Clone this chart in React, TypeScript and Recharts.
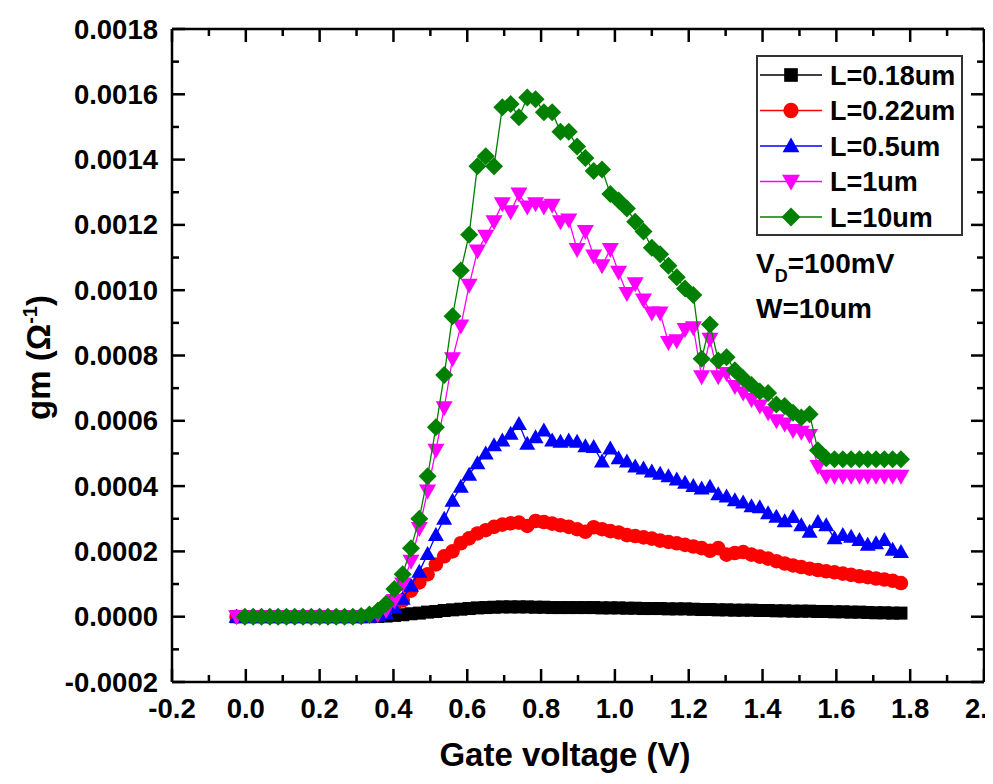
import React from "react";
import { ScatterChart, Scatter, XAxis, YAxis, Legend } from "recharts";

// gate voltage sweep (V)
const vg = [
  -0.025, -0.0025, 0.02, 0.0425, 0.065, 0.0875, 0.11, 0.1325, 0.155, 0.1775,
  0.2, 0.2225, 0.245, 0.2675, 0.29, 0.3125, 0.335, 0.3575, 0.38, 0.4025,
  0.425, 0.4475, 0.47, 0.4925, 0.515, 0.5375, 0.56, 0.5825, 0.605, 0.6275,
  0.65, 0.6725, 0.695, 0.7175, 0.74, 0.7625, 0.785, 0.8075, 0.83, 0.8525,
  0.875, 0.8975, 0.92, 0.9425, 0.965, 0.9875, 1.01, 1.0325, 1.055, 1.0775,
  1.1, 1.1225, 1.145, 1.1675, 1.19, 1.2125, 1.235, 1.2575, 1.28, 1.3025,
  1.325, 1.3475, 1.37, 1.3925, 1.415, 1.4375, 1.46, 1.4825, 1.505, 1.5275,
  1.55, 1.5725, 1.595, 1.6175, 1.64, 1.6625, 1.685, 1.7075, 1.73, 1.7525,
  1.775,
];

// gm in units of 1e-4 (1/Ohm), one value per gate voltage
const gmL018 = [
  0, 0, 0, 0, 0, 0, 0, 0, 0, 0,
  0, 0, 0, 0, 0, 0, 0, 0.01, 0.02, 0.04,
  0.06, 0.09, 0.11, 0.14, 0.16, 0.19, 0.21, 0.23, 0.25, 0.27,
  0.28, 0.29, 0.3, 0.3, 0.3, 0.3, 0.29, 0.29, 0.28, 0.28,
  0.28, 0.28, 0.28, 0.28, 0.27, 0.27, 0.27, 0.26, 0.26, 0.25,
  0.25, 0.25, 0.24, 0.24, 0.24, 0.23, 0.22, 0.22, 0.21, 0.21,
  0.2, 0.2, 0.2, 0.19, 0.19, 0.18, 0.18, 0.17, 0.17, 0.17,
  0.16, 0.16, 0.15, 0.15, 0.14, 0.14, 0.13, 0.12, 0.12, 0.11,
  0.11,
];

const gmL022 = [
  0, 0, 0, 0, 0, 0, 0, 0, 0, 0,
  0, 0, 0, 0, 0, 0, 0.02, 0.08, 0.2, 0.35,
  0.5, 0.8, 1.05, 1.3, 1.6, 1.85, 2.0, 2.25, 2.4, 2.55,
  2.65, 2.75, 2.82, 2.86, 2.88, 2.78, 2.93, 2.9, 2.85, 2.8,
  2.75, 2.68, 2.6, 2.74, 2.68, 2.62, 2.58, 2.5, 2.47, 2.43,
  2.39, 2.33, 2.29, 2.25, 2.2, 2.15, 2.1, 2.02, 2.1, 1.9,
  1.95, 1.98, 1.9, 1.84, 1.78, 1.7, 1.63, 1.57, 1.52, 1.47,
  1.43, 1.39, 1.36, 1.32, 1.28, 1.24, 1.21, 1.17, 1.14, 1.1,
  1.03,
];

const gmL05 = [
  0, 0, 0, 0, 0, 0, 0, 0, 0, 0,
  0, 0, 0, 0, 0, 0, 0, 0.03, 0.1, 0.28,
  0.55, 0.95, 1.38, 1.92, 2.5, 3.0, 3.55, 3.98, 4.35, 4.7,
  5.0, 5.25, 5.4, 5.6, 5.9, 5.3, 5.5, 5.7, 5.4, 5.36,
  5.4, 5.36, 5.22, 5.2, 4.75, 5.15, 4.85, 4.75, 4.6, 4.54,
  4.45, 4.38, 4.3, 4.2, 4.1, 4.0, 3.93, 3.98, 3.75, 3.68,
  3.57, 3.5, 3.38, 3.35, 3.17, 3.06, 2.92, 3.05, 2.8, 2.6,
  2.9, 2.8, 2.4, 2.5, 2.45, 2.35, 2.2, 2.25, 2.35, 2.05,
  1.98,
];

const gmL1 = [
  0, 0, 0, 0, 0, 0, 0, 0, 0, 0,
  0, 0, 0, 0, 0, 0, 0.02, 0.07, 0.2, 0.5,
  1.0, 1.7, 2.7, 3.85, 5.1, 6.4, 7.9, 8.9, 10.15, 11.2,
  11.65, 12.1, 12.65, 12.4, 12.95, 12.55, 12.65, 12.55, 12.6, 12.1,
  12.15, 11.25, 11.8, 11.05, 10.75, 11.25, 10.55, 9.9, 10.2, 9.7,
  9.3, 9.3, 8.4, 8.45, 8.8, 8.85, 7.35, 8.5, 7.35, 7.45,
  7.05, 6.85, 6.65, 6.45, 6.25, 6.0, 5.9, 5.7, 5.65, 5.55,
  4.6, 4.3, 4.3, 4.3, 4.3, 4.3, 4.3, 4.3, 4.3, 4.3,
  4.3,
];

const gmL10 = [
  null, 0, 0, 0, 0, 0, 0, 0, 0, 0,
  0, 0, 0, 0, 0, 0.02, 0.07, 0.18, 0.4, 0.85,
  1.3, 2.1, 3.0, 4.3, 5.8, 7.4, 9.2, 10.6, 11.7, 13.8,
  14.1, 13.8, 15.6, 15.7, 15.3, 15.9, 15.85, 15.45, 15.45, 14.85,
  14.85, 14.4, 14.05, 13.65, 13.7, 12.95, 12.75, 12.5, 12.1, 11.8,
  11.3, 11.1, 10.75, 10.4, 10.05, 9.85, 7.9, 8.95, 7.85, 7.95,
  7.55, 7.3, 7.1, 6.9, 6.85, 6.5, 6.45, 6.25, 6.1, 6.2,
  5.1, 4.85, 4.82, 4.82, 4.82, 4.82, 4.82, 4.82, 4.82, 4.82,
  4.82,
];

// axis ticks (major + minor)
const xTicks = [
  -0.2, -0.1, 0, 0.1, 0.2, 0.3, 0.4, 0.5, 0.6, 0.7, 0.8, 0.9, 1.0, 1.1,
  1.2, 1.3, 1.4, 1.5, 1.6, 1.7, 1.8, 1.9, 2.0,
];
const yTicks = [
  -0.0002, -0.0001, 0, 0.0001, 0.0002, 0.0003, 0.0004, 0.0005, 0.0006,
  0.0007, 0.0008, 0.0009, 0.001, 0.0011, 0.0012, 0.0013, 0.0014, 0.0015,
  0.0016, 0.0017, 0.0018,
];

const FONT = "'Liberation Sans', Arial, Helvetica, sans-serif";
const AXIS = { stroke: "#000", strokeWidth: 2.5 };

type Shape = "square" | "circle" | "up" | "down" | "diamond";

const series: { name: string; color: string; shape: Shape; ys: (number | null)[] }[] = [
  { name: "L=0.18um", color: "#000000", shape: "square", ys: gmL018 },
  { name: "L=0.22um", color: "#ff0000", shape: "circle", ys: gmL022 },
  { name: "L=0.5um", color: "#0000ff", shape: "up", ys: gmL05 },
  { name: "L=1um", color: "#ff00ff", shape: "down", ys: gmL1 },
  { name: "L=10um", color: "#008000", shape: "diamond", ys: gmL10 },
];

const toPoints = (ys: (number | null)[]) =>
  vg
    .map((x, i) => ({ x, y: ys[i] == null ? null : (ys[i] as number) * 1e-4 }))
    .filter((p) => p.y !== null);

function Marker({ shape, cx, cy, color, k = 1 }: { shape: Shape; cx: number; cy: number; color: string; k?: number }) {
  if (cx == null || cy == null) return null;
  switch (shape) {
    case "square":
      return <rect x={cx - 6.5 * k} y={cy - 6.5 * k} width={13 * k} height={13 * k} fill={color} />;
    case "circle":
      return <circle cx={cx} cy={cy} r={7.3 * k} fill={color} />;
    case "up":
      return (
        <polygon
          points={`${cx},${cy - 8 * k} ${cx + 8 * k},${cy + 6 * k} ${cx - 8 * k},${cy + 6 * k}`}
          fill={color}
        />
      );
    case "down":
      return (
        <polygon
          points={`${cx},${cy + 8.5 * k} ${cx + 8.5 * k},${cy - 6.5 * k} ${cx - 8.5 * k},${cy - 6.5 * k}`}
          fill={color}
        />
      );
    default:
      return (
        <polygon
          points={`${cx},${cy - 9 * k} ${cx + 9 * k},${cy} ${cx},${cy + 9 * k} ${cx - 9 * k},${cy}`}
          fill={color}
        />
      );
  }
}

// inward ticks, minor ones shorter; labels only on the bottom / left
function XTick(props: any) {
  const { x, y, payload, side } = props;
  const v = payload.value as number;
  const major = Math.round(v * 10) % 2 === 0;
  const len = major ? 13 : 7;
  const dir = side === "bottom" ? -1 : 1;
  return (
    <g>
      <line x1={x} x2={x} y1={y} y2={y + dir * len} stroke="#000" strokeWidth={2.5} />
      {side === "bottom" && major && (
        <text x={x} y={y + 36} textAnchor="middle" fontSize={27.5} fontWeight="bold" fontFamily={FONT} fill="#000">
          {v.toFixed(1)}
        </text>
      )}
    </g>
  );
}

function YTick(props: any) {
  const { x, y, payload, side } = props;
  const v = payload.value as number;
  const major = Math.round(v / 0.0001) % 2 === 0;
  const len = major ? 13 : 7;
  const dir = side === "left" ? 1 : -1;
  return (
    <g>
      <line x1={x} x2={x + dir * len} y1={y} y2={y} stroke="#000" strokeWidth={2.5} />
      {side === "left" && major && (
        <text x={x - 14} y={y + 9.5} textAnchor="end" fontSize={27.5} fontWeight="bold" fontFamily={FONT} fill="#000">
          {v.toFixed(4)}
        </text>
      )}
    </g>
  );
}

function XTitle({ viewBox }: any) {
  return (
    <text
      x={viewBox.x + viewBox.width / 2 - 13}
      y={viewBox.y + 84}
      textAnchor="middle"
      fontSize={33}
      fontWeight="bold"
      fontFamily={FONT}
      fill="#000"
    >
      Gate voltage (V)
    </text>
  );
}

function YTitle({ viewBox }: any) {
  const cx = viewBox.x + 42;
  const cy = viewBox.y + viewBox.height / 2 + 2;
  return (
    <text
      x={cx}
      y={cy}
      transform={`rotate(-90 ${cx} ${cy})`}
      textAnchor="middle"
      fontSize={33}
      fontWeight="bold"
      fontFamily={FONT}
      fill="#000"
    >
      gm (Ω
      <tspan dy={-13} fontSize={20}>
        -1
      </tspan>
      <tspan dy={13}>)</tspan>
    </text>
  );
}

function LegendBox() {
  return (
    <div
      style={{
        width: 207,
        height: 181,
        border: "2px solid #333",
        boxSizing: "border-box",
        background: "#fff",
      }}
    >
      <svg width={203} height={177} style={{ display: "block" }}>
        {series.map((s, i) => {
          const cy = 18 + i * 35.5;
          return (
            <g key={s.name}>
              <line x1={2} x2={64} y1={cy} y2={cy} stroke={s.color} strokeWidth={1.5} />
              <Marker shape={s.shape} cx={33} cy={cy} color={s.color} k={1.05} />
              <text x={72} y={cy + 9.5} fontSize={27} fontWeight="bold" fontFamily={FONT} fill="#000">
                {s.name}
              </text>
            </g>
          );
        })}
      </svg>
    </div>
  );
}

export default function App() {
  return (
    <div style={{ position: "relative", width: 985, height: 776, background: "#fff" }}>
      <ScatterChart
        width={985}
        height={776}
        margin={{ top: 20, right: 8, bottom: 0, left: 0 }}
        style={{ overflow: "visible" }}
      >
        <XAxis
          xAxisId="b"
          type="number"
          dataKey="x"
          domain={[-0.2, 2]}
          ticks={xTicks}
          interval={0}
          allowDataOverflow
          height={102}
          tickSize={0}
          tickMargin={0}
          tickLine={false}
          axisLine={AXIS}
          tick={(p: any) => <XTick {...p} side="bottom" />}
          label={(p: any) => <XTitle viewBox={p.viewBox} />}
        />
        <XAxis
          xAxisId="t"
          orientation="top"
          type="number"
          dataKey="x"
          domain={[-0.2, 2]}
          ticks={xTicks}
          interval={0}
          allowDataOverflow
          height={1}
          tickSize={0}
          tickMargin={0}
          tickLine={false}
          axisLine={AXIS}
          tick={(p: any) => <XTick {...p} side="top" />}
        />
        <YAxis
          yAxisId="l"
          type="number"
          dataKey="y"
          domain={[-0.0002, 0.0018]}
          ticks={yTicks}
          interval={0}
          allowDataOverflow
          width={164}
          tickSize={0}
          tickMargin={0}
          tickLine={false}
          axisLine={AXIS}
          tick={(p: any) => <YTick {...p} side="left" />}
          label={(p: any) => <YTitle viewBox={p.viewBox} />}
        />
        <YAxis
          yAxisId="r"
          orientation="right"
          type="number"
          dataKey="y"
          domain={[-0.0002, 0.0018]}
          ticks={yTicks}
          interval={0}
          allowDataOverflow
          width={1}
          tickSize={0}
          tickMargin={0}
          tickLine={false}
          axisLine={AXIS}
          tick={(p: any) => <YTick {...p} side="right" />}
        />
        <Legend
          layout="vertical"
          align="center"
          verticalAlign="middle"
          content={() => <LegendBox />}
          wrapperStyle={{ left: 748, top: 47, width: 207, height: 181 }}
        />
        {series.map((s) => (
          <Scatter
            key={s.name}
            name={s.name}
            xAxisId="b"
            yAxisId="l"
            data={toPoints(s.ys)}
            fill={s.color}
            line={{ stroke: s.color, strokeWidth: 1.3 }}
            lineType="joint"
            shape={(p: any) => <Marker shape={s.shape} cx={p.cx} cy={p.cy} color={s.color} />}
            isAnimationActive={false}
          />
        ))}
      </ScatterChart>
      <svg
        width={985}
        height={776}
        style={{ position: "absolute", left: 0, top: 0, pointerEvents: "none" }}
      >
        <text x={748} y={265} fontSize={28} fontWeight="bold" fontFamily={FONT} fill="#000">
          V
          <tspan dy={9} fontSize={18}>
            D
          </tspan>
          <tspan dy={-9}>=100mV</tspan>
        </text>
        <text x={748} y={310} fontSize={28} fontWeight="bold" fontFamily={FONT} fill="#000">
          W=10um
        </text>
      </svg>
    </div>
  );
}
